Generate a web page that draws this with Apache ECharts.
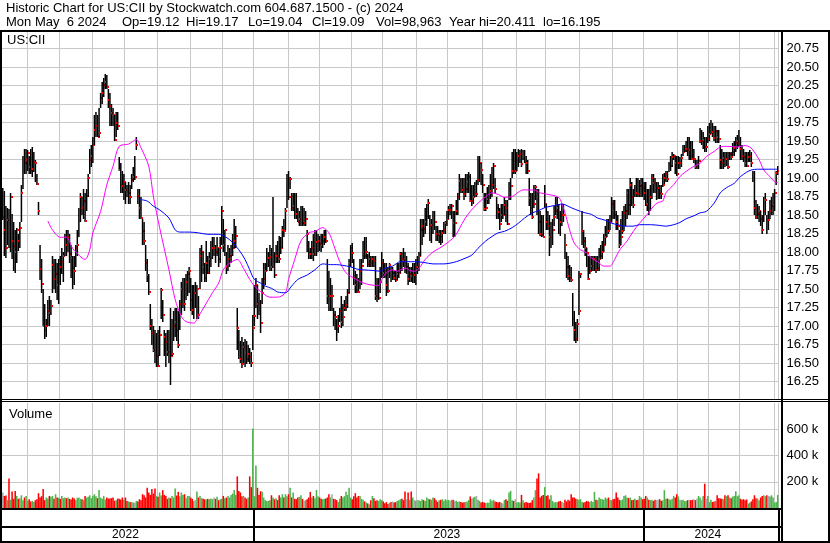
<!DOCTYPE html>
<html><head><meta charset="utf-8">
<script src="https://cdn.jsdelivr.net/npm/echarts/dist/echarts.min.js"></script>
<style>html,body{margin:0;padding:0;background:#fff}#c{width:830px;height:543px}</style>
</head><body><div id="c"></div><script>
// Daily bars, May 2022 - May 6 2024 (index 0..499)
const hi = [
18.87,18.82,18.62,18.60,18.58,18.80,18.52,18.40,18.30,18.32,
18.25,18.40,18.90,19.30,19.40,19.40,19.38,19.30,19.40,19.42,
19.35,19.25,19.05,18.68,18.10,17.90,17.50,17.30,17.10,17.35,
17.40,17.35,17.95,17.90,17.90,17.85,17.90,17.95,18.05,18.00,
18.25,18.30,18.30,18.25,18.10,17.95,17.95,18.10,18.30,18.60,
18.80,18.75,18.85,18.80,18.85,19.05,19.40,19.45,19.55,19.85,
19.90,19.85,19.95,20.15,20.30,20.35,20.41,20.40,20.20,20.15,
20.00,19.95,19.85,19.90,19.90,19.28,19.20,19.10,19.05,18.95,
18.90,18.95,18.90,19.05,19.15,19.30,19.55,18.85,18.85,18.75,
18.45,18.40,18.10,17.90,17.70,17.30,17.10,17.00,16.95,16.90,
16.95,17.00,17.52,17.35,16.95,16.90,16.95,16.95,17.25,17.10,
17.20,17.25,17.25,17.20,17.35,17.60,17.65,17.65,17.70,17.75,
17.80,17.65,17.55,17.55,17.60,17.55,17.40,18.05,18.10,18.00,
17.85,18.15,17.95,18.00,18.15,18.20,18.20,18.10,18.20,18.05,
18.20,18.62,18.45,18.30,18.00,18.10,18.05,18.10,18.25,18.45,
18.35,17.25,16.95,16.80,16.85,16.78,16.82,16.80,16.75,16.70,
16.65,17.15,17.55,17.65,17.55,17.45,17.35,17.65,17.85,17.85,
18.05,18.00,18.10,18.05,18.75,18.00,18.10,18.15,18.22,18.20,
18.35,18.45,18.60,19.05,19.10,19.02,18.80,18.80,18.80,18.80,
18.60,18.55,18.62,18.62,18.60,18.55,18.30,18.15,18.05,18.15,
18.25,18.30,18.30,18.25,18.22,18.25,18.25,18.30,18.30,17.90,
17.75,17.65,17.55,17.25,17.20,17.10,17.15,17.25,17.40,17.30,
17.35,17.40,17.50,17.90,18.10,18.12,17.90,17.75,17.70,17.65,
17.90,17.90,18.15,18.20,18.20,17.98,18.00,17.95,17.95,17.95,
17.95,17.65,17.65,17.80,18.00,17.90,17.85,17.85,17.80,17.85,
17.80,17.80,17.75,17.75,17.85,17.85,18.00,18.00,18.05,18.00,
17.95,17.85,17.80,17.80,17.85,17.85,17.90,17.95,18.00,18.45,
18.45,18.45,18.60,18.65,18.72,18.50,18.45,18.55,18.55,18.35,
18.35,18.30,18.30,18.30,18.40,18.42,18.55,18.62,18.65,18.65,
18.55,18.55,18.70,18.80,19.05,19.00,19.00,19.00,19.05,19.05,
19.08,19.05,18.90,18.90,18.95,18.98,19.30,19.30,19.20,19.05,
18.80,18.80,18.88,18.90,19.05,19.15,19.20,19.00,18.75,18.65,
18.60,18.65,18.65,18.75,18.70,18.70,18.95,19.00,19.35,19.40,
19.40,19.35,19.40,19.38,19.40,19.38,19.38,19.30,19.25,19.00,
18.80,18.80,18.90,18.90,18.85,18.85,18.55,18.50,18.50,18.90,
18.65,18.55,18.50,18.40,18.45,18.62,18.75,18.75,18.65,18.55,
18.65,18.65,18.25,18.00,17.95,17.82,17.80,17.45,17.20,17.05,
17.10,17.75,17.72,18.55,18.30,18.20,18.05,17.95,17.95,17.95,
17.95,17.95,17.95,17.95,18.05,18.10,18.15,18.25,18.35,18.45,
18.45,18.50,18.75,18.70,18.70,18.55,18.50,18.30,18.45,18.55,
18.62,18.65,18.85,18.85,19.00,18.95,18.85,18.90,19.00,19.00,
18.98,19.00,19.00,18.95,18.95,18.85,18.85,18.90,19.05,19.05,
19.00,18.95,18.95,18.90,18.90,19.05,19.07,19.10,19.10,19.22,
19.30,19.35,19.32,19.30,19.30,19.30,19.28,19.32,19.45,19.45,
19.50,19.55,19.55,19.50,19.50,19.40,19.25,19.25,19.30,19.68,
19.65,19.62,19.55,19.55,19.70,19.75,19.79,19.75,19.70,19.70,
19.65,19.65,19.45,19.40,19.35,19.35,19.35,19.35,19.35,19.35,
19.48,19.50,19.55,19.58,19.65,19.55,19.45,19.40,19.35,19.35,
19.35,19.38,19.35,19.10,19.10,18.70,18.65,18.62,18.55,18.50,
18.75,18.80,18.50,18.55,18.70,18.75,18.80,18.85,19.10,19.17
];
const lo = [
18.44,17.95,17.92,18.10,18.05,18.00,17.90,17.75,17.72,17.85,
18.02,18.05,18.40,18.85,19.05,19.05,19.10,19.05,19.05,19.02,
19.08,18.95,18.90,18.50,17.62,17.45,17.00,16.82,16.85,17.00,
17.00,17.15,17.45,17.50,17.45,17.35,17.30,17.55,17.70,17.60,
17.95,17.95,18.00,17.85,17.65,17.50,17.55,17.80,17.95,18.20,
18.40,18.50,18.45,18.40,18.55,18.75,19.05,19.15,19.20,19.45,
19.55,19.55,19.55,19.95,20.00,20.10,20.20,20.20,19.95,19.70,
19.70,19.70,19.50,19.55,19.65,19.10,18.80,18.80,18.70,18.65,
18.75,18.65,18.65,18.85,18.95,18.98,19.38,18.65,18.45,18.45,
18.10,18.10,17.75,17.60,17.42,16.95,16.75,16.65,16.50,16.45,
16.45,16.60,17.10,17.05,16.60,16.45,16.60,16.50,16.20,16.60,
16.80,16.85,16.80,16.70,16.95,17.15,17.25,17.20,17.35,17.40,
17.45,17.20,17.15,17.10,17.25,17.10,17.10,17.50,17.60,17.70,
17.60,17.60,17.70,17.70,17.80,17.90,17.95,17.85,17.95,17.80,
17.85,18.10,18.00,17.95,17.70,17.75,17.80,17.85,17.95,18.05,
18.05,16.68,16.55,16.50,16.43,16.50,16.45,16.48,16.52,16.48,
16.45,16.68,17.00,17.25,17.10,17.15,16.90,17.30,17.50,17.55,
17.75,17.80,17.75,17.75,17.78,17.65,17.85,17.85,17.85,17.98,
18.05,18.20,18.30,18.60,18.70,18.85,18.55,18.55,18.45,18.45,
18.40,18.35,18.35,18.35,18.35,18.35,18.00,17.90,17.90,17.90,
17.88,17.95,17.95,18.00,18.02,18.00,18.05,18.10,18.12,17.30,
17.20,17.20,17.20,17.00,16.95,16.80,16.90,17.05,16.98,17.00,
17.20,17.20,17.25,17.45,17.80,17.85,17.55,17.45,17.45,17.45,
17.50,17.55,17.85,17.90,17.90,17.80,17.80,17.80,17.80,17.80,
17.35,17.33,17.35,17.45,17.65,17.65,17.65,17.40,17.45,17.65,
17.60,17.62,17.62,17.60,17.62,17.65,17.72,17.75,17.80,17.72,
17.70,17.55,17.60,17.60,17.58,17.58,17.55,17.70,17.75,17.95,
18.10,18.20,18.25,18.35,18.45,18.15,18.12,18.25,18.30,18.15,
18.15,18.12,18.10,18.12,18.25,18.25,18.35,18.45,18.50,18.45,
18.20,18.20,18.50,18.50,18.70,18.80,18.80,18.70,18.75,18.80,
18.80,18.68,18.62,18.65,18.75,18.75,18.90,18.95,18.90,18.80,
18.55,18.55,18.65,18.65,18.72,18.75,18.85,18.80,18.45,18.45,
18.30,18.40,18.45,18.50,18.40,18.37,18.70,18.70,19.00,19.05,
19.05,19.10,19.15,19.20,19.15,19.25,19.20,19.05,19.05,18.62,
18.50,18.45,18.60,18.70,18.50,18.25,18.22,18.20,18.20,18.60,
18.30,18.30,17.95,18.05,18.10,18.35,18.50,18.45,18.25,18.22,
18.35,18.40,17.90,17.65,17.62,17.60,17.60,17.00,16.80,16.77,
16.80,17.15,17.65,18.10,18.05,17.95,17.80,17.62,17.70,17.75,
17.75,17.75,17.72,17.75,17.75,17.90,17.90,18.00,18.10,18.20,
18.25,18.30,18.40,18.45,18.45,18.30,18.30,18.05,18.10,18.25,
18.28,18.35,18.45,18.50,18.50,18.62,18.60,18.75,18.75,18.75,
18.75,18.75,18.75,18.70,18.62,18.55,18.50,18.55,18.72,18.80,
18.80,18.70,18.72,18.72,18.72,18.88,18.92,18.95,18.95,19.08,
19.10,19.15,19.25,19.05,19.03,19.12,19.12,19.15,19.30,19.35,
19.35,19.30,19.25,19.25,19.25,19.20,19.12,19.12,19.12,19.48,
19.45,19.40,19.35,19.35,19.48,19.50,19.60,19.55,19.50,19.48,
19.48,19.47,19.12,19.12,19.12,19.15,19.17,19.12,19.25,19.25,
19.30,19.30,19.35,19.40,19.42,19.25,19.25,19.22,19.15,19.15,
19.22,19.22,19.15,18.95,18.50,18.45,18.45,18.40,18.35,18.25,
18.40,18.50,18.24,18.30,18.45,18.50,18.50,18.55,18.90,19.04
];
const cl = [
18.47,18.30,18.05,18.44,18.32,18.75,18.15,18.08,18.00,18.30,
18.15,18.32,18.80,19.25,19.20,19.25,19.34,19.15,19.10,19.12,
19.22,19.20,18.92,18.55,17.77,17.57,17.00,16.94,17.00,17.20,
17.18,17.27,17.82,17.63,17.70,17.55,17.84,17.80,17.87,17.95,
18.17,18.10,18.21,17.97,17.92,17.78,17.75,18.05,18.10,18.42,
18.74,18.60,18.69,18.42,18.76,19.00,19.25,19.30,19.45,19.65,
19.70,19.56,19.61,20.08,20.15,20.26,20.30,20.23,20.05,19.97,
19.88,19.85,19.52,19.74,19.70,19.11,18.90,18.89,18.95,18.84,
18.78,18.80,18.75,18.97,19.02,19.02,19.45,18.76,18.60,18.46,
18.28,18.15,17.85,17.69,17.46,17.00,16.90,16.68,16.57,16.60,
16.46,16.88,17.49,17.15,16.85,16.78,16.65,16.72,16.60,16.62,
17.00,17.05,16.95,16.75,17.30,17.50,17.60,17.30,17.60,17.70,
17.75,17.35,17.22,17.45,17.45,17.50,17.15,17.95,18.00,17.80,
17.65,17.85,17.72,17.90,17.92,18.05,18.05,18.00,18.05,17.90,
18.05,18.55,18.10,18.30,17.80,17.90,17.95,17.98,18.05,18.15,
18.22,16.97,16.75,16.55,16.49,16.72,16.65,16.55,16.62,16.58,
16.50,16.97,17.13,17.55,17.30,17.18,17.04,17.45,17.63,17.75,
17.90,17.92,17.93,17.80,17.81,17.69,17.95,17.94,17.90,18.05,
18.30,18.29,18.55,18.80,18.75,18.99,18.60,18.62,18.55,18.52,
18.40,18.45,18.50,18.39,18.39,18.45,18.25,18.00,17.98,18.05,
17.98,17.99,18.13,18.15,18.11,18.10,18.15,18.20,18.15,17.40,
17.35,17.40,17.40,17.15,17.12,16.96,17.00,17.20,17.05,17.12,
17.25,17.28,17.45,17.85,18.05,17.99,17.65,17.55,17.47,17.46,
17.75,17.81,18.00,17.95,18.00,17.84,17.90,17.85,17.90,17.88,
17.40,17.37,17.38,17.60,17.85,17.72,17.68,17.55,17.47,17.83,
17.72,17.72,17.65,17.62,17.70,17.72,17.98,17.90,17.88,17.80,
17.80,17.63,17.70,17.68,17.69,17.69,17.80,17.80,17.95,18.30,
18.35,18.31,18.40,18.49,18.66,18.35,18.36,18.52,18.40,18.25,
18.23,18.25,18.20,18.26,18.30,18.39,18.45,18.57,18.57,18.62,
18.39,18.39,18.56,18.75,18.96,18.90,18.84,18.78,18.85,18.95,
19.02,18.69,18.69,18.75,18.78,18.78,18.98,19.20,19.11,18.90,
18.58,18.60,18.72,18.74,18.83,18.90,19.16,18.85,18.60,18.54,
18.38,18.50,18.50,18.63,18.60,18.38,18.80,18.89,19.10,19.09,
19.09,19.25,19.30,19.32,19.19,19.30,19.22,19.20,19.09,18.73,
18.60,18.47,18.65,18.88,18.75,18.40,18.25,18.23,18.21,18.65,
18.40,18.35,18.20,18.22,18.30,18.47,18.55,18.60,18.45,18.40,
18.50,18.50,18.09,17.80,17.67,17.65,17.62,17.10,16.95,16.83,
17.03,17.20,17.70,18.28,18.15,18.05,17.99,17.63,17.75,17.81,
17.85,17.90,17.76,17.78,17.90,17.95,18.00,18.10,18.20,18.33,
18.28,18.40,18.65,18.55,18.50,18.40,18.35,18.10,18.21,18.28,
18.53,18.55,18.80,18.63,18.90,18.75,18.63,18.87,18.80,18.78,
18.89,18.94,18.87,18.80,18.63,18.65,18.60,18.75,19.00,18.93,
18.87,18.87,18.87,18.80,18.78,18.90,19.00,19.05,18.99,19.11,
19.17,19.28,19.30,19.20,19.05,19.20,19.20,19.27,19.35,19.36,
19.40,19.38,19.38,19.30,19.26,19.26,19.15,19.15,19.23,19.50,
19.50,19.52,19.42,19.42,19.53,19.60,19.70,19.62,19.54,19.63,
19.55,19.53,19.25,19.20,19.27,19.25,19.26,19.15,19.32,19.29,
19.35,19.41,19.48,19.50,19.52,19.40,19.30,19.28,19.20,19.17,
19.29,19.30,19.20,19.00,18.60,18.48,18.52,18.55,18.45,18.30,
18.55,18.71,18.43,18.43,18.55,18.62,18.64,18.80,19.07,19.09
];
// volume in thousands
const vol = [
118,92,95,60,225,63,125,70,130,92,
70,75,97,60,80,92,55,67,50,54,
46,60,67,113,80,90,144,60,80,72,
92,85,92,70,105,80,78,70,92,75,
80,75,80,70,65,80,72,60,78,80,
70,67,60,92,80,85,97,75,92,105,
90,75,138,80,70,92,65,80,72,72,
75,80,55,60,72,70,65,80,62,80,
54,50,46,44,42,40,54,50,67,60,
105,97,80,154,118,100,144,110,148,90,
85,118,95,136,100,92,70,80,75,92,
80,149,95,123,90,118,100,105,75,92,
92,80,70,54,60,125,80,92,75,70,
67,65,70,67,72,67,80,70,85,60,
67,70,92,75,80,92,80,100,110,138,
100,241,130,118,90,92,80,70,80,241,
159,605,90,323,154,100,128,123,80,60,
54,54,60,97,80,67,75,60,97,80,
105,80,105,90,105,154,80,118,70,67,
80,85,97,70,54,60,67,80,123,80,
92,75,138,90,80,70,67,70,72,80,
105,80,105,70,67,60,46,70,92,80,
90,123,100,154,80,67,90,113,80,92,
92,70,62,50,41,35,28,60,92,75,
54,60,54,67,60,50,36,45,30,40,
46,50,41,45,54,60,67,70,60,125,
67,118,62,125,80,60,55,62,60,54,
67,60,54,80,70,67,62,80,75,60,
46,60,62,67,55,67,60,62,55,62,
62,54,55,46,50,46,41,44,46,50,
60,88,70,80,85,92,62,54,41,46,
41,38,41,40,67,55,62,50,46,42,
46,40,35,60,67,55,118,131,60,54,
67,41,45,41,100,60,41,45,41,38,
41,60,80,136,225,264,80,92,100,159,
92,97,67,97,54,41,45,46,50,54,
46,40,62,50,62,55,105,80,80,70,
67,62,67,46,41,45,54,50,46,54,
46,123,62,60,80,70,67,62,80,70,
80,62,60,67,70,118,80,62,60,65,
92,97,80,75,80,60,62,70,60,62,
92,80,67,70,92,80,62,60,62,54,
62,60,62,67,55,60,136,70,72,67,
62,70,92,80,105,88,62,60,62,54,
54,60,62,60,62,67,60,70,92,80,
62,92,185,70,92,46,62,46,50,55,
97,75,72,70,67,97,90,97,80,75,
87,92,128,90,97,70,62,67,60,65,
35,41,50,67,97,75,72,60,80,92,
97,90,97,92,88,97,80,41,45,99
];
// moving averages: [bar index, value]
const maShort = [[29,18.42],[32,18.30],[37,18.20],[41,18.20],[45,18.05],[51,17.92],[53,17.90],[56,18.03],[58,18.26],[63,18.55],[67,18.91],[71,19.16],[75,19.43],[81,19.46],[86,19.52],[89,19.41],[94,19.16],[97,18.75],[101,18.33],[107,17.76],[111,17.36],[115,17.13],[118,17.06],[123,17.04],[126,17.13],[130,17.27],[135,17.45],[139,17.58],[142,17.76],[146,17.85],[151,17.90],[155,17.78],[159,17.63],[162,17.54],[167,17.45],[172,17.39],[177,17.39],[182,17.45],[184,17.63],[188,17.90],[192,18.15],[197,18.26],[201,18.28],[206,18.33],[210,18.26],[213,18.10],[217,17.87],[221,17.72],[226,17.65],[230,17.60],[234,17.57],[239,17.55],[242,17.55],[244,17.63],[247,17.72],[251,17.76],[254,17.74],[257,17.77],[260,17.78],[262,17.75],[265,17.74],[268,17.78],[272,17.90],[277,18.00],[281,18.05],[286,18.12],[290,18.19],[292,18.24],[297,18.43],[301,18.55],[306,18.66],[311,18.75],[315,18.80],[319,18.78],[323,18.74],[328,18.75],[332,18.81],[335,18.84],[342,18.84],[346,18.80],[351,18.78],[357,18.75],[359,18.71],[362,18.53],[365,18.30],[368,18.12],[372,18.03],[376,17.99],[379,17.92],[383,17.87],[387,17.81],[391,17.81],[394,17.90],[397,18.02],[402,18.15],[406,18.28],[410,18.39],[415,18.51],[419,18.62],[422,18.67],[425,18.69],[427,18.80],[432,18.91],[436,19.02],[440,19.09],[445,19.16],[449,19.20],[453,19.29],[458,19.36],[462,19.42],[466,19.43],[473,19.42],[478,19.44],[481,19.42],[483,19.38],[487,19.25],[490,19.11],[494,19.02],[498,18.94],[499,18.94]];
const maLong = [[88,18.71],[93,18.69],[97,18.62],[101,18.57],[107,18.46],[111,18.30],[114,18.27],[120,18.27],[126,18.26],[132,18.24],[139,18.24],[143,18.21],[147,18.15],[152,18.03],[156,17.90],[159,17.76],[162,17.63],[166,17.58],[169,17.54],[173,17.51],[177,17.46],[182,17.45],[186,17.54],[190,17.63],[196,17.69],[201,17.76],[206,17.84],[211,17.83],[215,17.83],[219,17.82],[224,17.80],[228,17.77],[232,17.76],[239,17.75],[243,17.74],[246,17.78],[251,17.81],[256,17.87],[260,17.87],[265,17.87],[271,17.86],[277,17.84],[284,17.84],[288,17.85],[292,17.87],[297,17.91],[302,17.96],[306,18.05],[311,18.15],[315,18.21],[319,18.26],[323,18.28],[328,18.33],[332,18.39],[336,18.46],[341,18.53],[345,18.56],[349,18.60],[353,18.62],[358,18.64],[360,18.65],[362,18.64],[366,18.60],[372,18.55],[375,18.53],[379,18.51],[383,18.46],[388,18.43],[392,18.39],[396,18.37],[400,18.35],[406,18.35],[410,18.37],[417,18.37],[423,18.36],[427,18.35],[432,18.37],[436,18.40],[440,18.45],[445,18.49],[449,18.53],[453,18.55],[458,18.66],[462,18.80],[466,18.87],[471,18.93],[475,19.02],[479,19.08],[482,19.11],[486,19.12],[492,19.12],[499,19.12]];
const monthStartIdx = [16,37,58,79,100,121,142,162,184,204,225,245,267,287,309,331,350,372,393,413,435,455,475,497];
const yearStartIdx = [162,413];
const yearLabelIdx = [79,286,454];
const yearLabels = ['2022','2023','2024'];
const headerLine1 = 'Historic Chart for US:CII by Stockwatch.com 604.687.1500 - (c) 2024';
const headerParts = ['Mon May  6 2024','Op=19.12','Hi=19.17','Lo=19.04','Cl=19.09','Vol=98,963','Year hi=20.411','lo=16.195'];
const headerPartX = [6,122,186,248,312,376,449,543];

const FONT = 'Arial, "Liberation Sans", sans-serif';
const N = cl.length;
const cats = cl.map((_, i) => i);
const ohlc = cl.map((c, i) => [i, hi[i], lo[i], c]);
const volColor = cl.map((c, i) => i === 0 ? '#a8a8a8' : (c > cl[i-1] ? '#4cb44c' : (c < cl[i-1] ? '#ff0000' : '#a8a8a8')));
const monthSet = new Set(monthStartIdx);
const yearSet = new Set(yearStartIdx);
const labelMap = new Map(yearLabelIdx.map((k, j) => [k, yearLabels[j]]));
const gridLine = {color: '#c8c8c8', width: 1};

const chart = echarts.init(document.getElementById('c'), null, {renderer: 'canvas'});
const gW = 776.5;
const graphics = [
  {type:'rect', shape:{x:0,y:30,width:830,height:2}, style:{fill:'#000'}, z:100},
  {type:'rect', shape:{x:0,y:30,width:2,height:513}, style:{fill:'#000'}, z:100},
  {type:'rect', shape:{x:781,y:30,width:2,height:513}, style:{fill:'#000'}, z:100},
  {type:'rect', shape:{x:828,y:30,width:2,height:513}, style:{fill:'#000'}, z:100},
  {type:'rect', shape:{x:0,y:399,width:830,height:1}, style:{fill:'#000'}, z:100},
  {type:'rect', shape:{x:0,y:401,width:830,height:1}, style:{fill:'#000'}, z:100},
  {type:'rect', shape:{x:0,y:508,width:782,height:2}, style:{fill:'#000'}, z:100},
  {type:'rect', shape:{x:0,y:526,width:782,height:2}, style:{fill:'#000'}, z:100},
  {type:'rect', shape:{x:0,y:541,width:830,height:2}, style:{fill:'#000'}, z:100},
  {type:'text', x:6, y:8, style:{text: headerLine1, font:'13px ' + FONT, fill:'#000', verticalAlign:'middle', align:'left'}, z:100},
  {type:'text', x:7, y:40.5, style:{text:'US:CII', font:'13px ' + FONT, fill:'#000', verticalAlign:'middle', align:'left'}, z:100},
  {type:'text', x:9, y:414, style:{text:'Volume', font:'13px ' + FONT, fill:'#000', verticalAlign:'middle', align:'left'}, z:100}
];
headerParts.forEach((t, k) => graphics.push({type:'text', x: headerPartX[k], y: 22, style:{text: t, font:'13px ' + FONT, fill:'#000', verticalAlign:'middle', align:'left'}, z:100}));
if (hi.length !== N || lo.length !== N || vol.length !== N) {
  graphics.push({type:'text', x:300, y:200, style:{text:'LEN ' + hi.length + ' ' + lo.length + ' ' + cl.length + ' ' + vol.length, font:'20px sans-serif', fill:'#f00'}, z:200});
}

const baseX = (g) => ({
  gridIndex: g, type: 'category', data: cats, boundaryGap: true,
  axisLine: {show: false}, axisTick: {show: false}, axisLabel: {show: false},
  splitLine: {show: true, interval: (i) => monthSet.has(i), lineStyle: gridLine}
});

chart.setOption({
  animation: false,
  backgroundColor: '#fff',
  grid: [
    {left: 2, top: 32, width: gW, height: 368, containLabel: false, outerBoundsMode: 'none'},
    {left: 2, top: 403, width: gW, height: 105, containLabel: false, outerBoundsMode: 'none'},
    {left: 2, top: 510, width: gW, height: 17, containLabel: false, outerBoundsMode: 'none'}
  ],
  xAxis: [
    baseX(0),
    baseX(1),
    {
      gridIndex: 2, type: 'category', data: cats, boundaryGap: true,
      axisLine: {show: false},
      axisTick: {show: true, interval: (i) => yearSet.has(i), length: 14, lineStyle: {color: '#000', width: 2}},
      axisLabel: {show: true, interval: (i) => labelMap.has(i), formatter: (v, i) => labelMap.get(i) || '', margin: 2, fontSize: 12, fontFamily: FONT, color: '#000', hideOverlap: false},
      splitLine: {show: true, interval: (i) => yearSet.has(i), lineStyle: {color: '#000', width: 2}}
    }
  ],
  yAxis: [
    {
      gridIndex: 0, type: 'value', position: 'right', min: 16, max: 20.975, interval: 0.25,
      axisLine: {show: false}, axisTick: {show: false},
      splitLine: {show: true, showMinLine: false, showMaxLine: false, lineStyle: gridLine},
      axisLabel: {margin: 8, fontSize: 13, fontFamily: FONT, color: '#000', formatter: (v) => (v > 16.1 && v < 20.8) ? v.toFixed(2) : ''}
    },
    {
      gridIndex: 1, type: 'value', position: 'right', min: 0, max: 800, interval: 200,
      axisLine: {show: false}, axisTick: {show: false},
      splitLine: {show: true, showMinLine: false, showMaxLine: false, lineStyle: gridLine},
      axisLabel: {margin: 8, fontSize: 13, fontFamily: FONT, color: '#000', formatter: (v) => (v > 0 && v < 800) ? (v + ' k') : ''}
    },
    {gridIndex: 2, type: 'value', show: false, splitLine: {show: false}}
  ],
  series: [
    {
      type: 'custom', xAxisIndex: 0, yAxisIndex: 0, data: ohlc, clip: true, z: 2,
      encode: {x: 0, y: [1, 2, 3]},
      renderItem: (params, api) => {
        const i = api.value(0);
        const pH = api.coord([i, api.value(1)]);
        const pL = api.coord([i, api.value(2)]);
        const pC = api.coord([i, api.value(3)]);
        const x = pH[0];
        return {type: 'group', children: [
          {type: 'rect', shape: {x: x - 0.75, y: Math.round(pH[1]), width: 1.5, height: Math.max(1, Math.round(pL[1]) - Math.round(pH[1]))}, style: {fill: '#000'}},
          {type: 'rect', shape: {x: Math.round(x), y: Math.round(pC[1]) - 1, width: 2, height: 2}, style: {fill: '#ff0000'}}
        ]};
      }
    },
    {type: 'line', xAxisIndex: 0, yAxisIndex: 0, data: maShort, showSymbol: false, smooth: 0.3, z: 3, lineStyle: {color: '#ff00ff', width: 1}},
    {type: 'line', xAxisIndex: 0, yAxisIndex: 0, data: maLong, showSymbol: false, smooth: 0.3, z: 3, lineStyle: {color: '#0000ff', width: 1}},
    {
      type: 'bar', xAxisIndex: 1, yAxisIndex: 1, barCategoryGap: '0%', z: 2,
      data: vol.map((v, i) => ({value: v, itemStyle: {color: volColor[i]}}))
    }
  ],
  graphic: graphics
});
</script></body></html>
